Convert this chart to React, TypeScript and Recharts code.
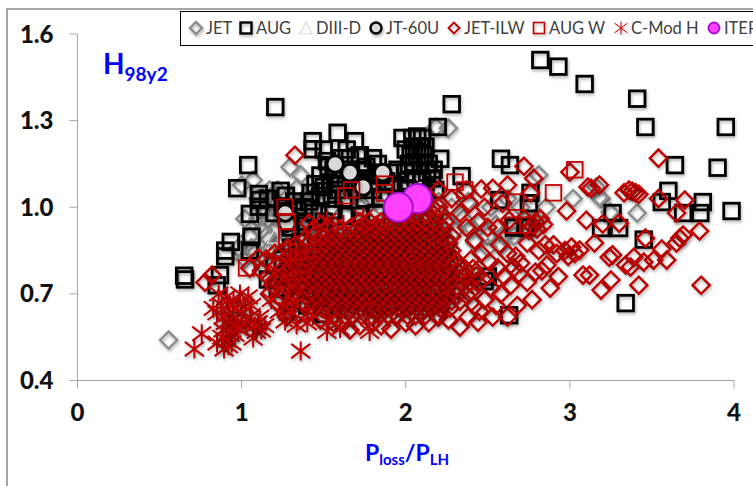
import React from 'react'
import { ScatterChart, Scatter, XAxis, YAxis, Legend } from 'recharts'

type Pair = [number, number]

const xTicks = [0, 1, 2, 3, 4]
const yTicks = [0.4, 0.7, 1.0, 1.3, 1.6]

const jet: Pair[] = [
  [0.555, 0.54], [1.295, 1.139], [1.36, 1.112], [1.0, 1.077], [1.07, 1.094], [1.34, 1.067], [2.26, 1.274], [2.185, 1.278],
  [2.81, 1.112], [3.02, 1.03], [2.855, 1.0], [3.16, 1.07], [3.19, 1.03], [3.18, 1.035], [3.41, 0.98], [3.245, 0.983],
  [1.02, 0.96], [1.1, 1.03], [1.2, 1.0], [1.16, 0.96], [1.22, 0.93], [1.12, 0.92], [1.05, 0.9], [1.28, 0.97], [1.33, 0.94],
  [1.38, 1.03], [1.42, 1.0], [1.45, 0.96], [1.3, 1.02], [1.25, 0.89], [1.18, 0.86], [1.08, 0.84], [0.98, 0.86], [1.35, 0.9],
  [1.5, 1.03], [1.55, 1.0], [1.6, 1.07], [1.65, 1.02], [1.72, 1.0], [1.8, 1.03], [1.85, 1.0], [1.95, 0.97], [2.05, 0.95],
  [2.12, 0.96], [2.18, 0.93], [2.25, 0.95], [2.3, 0.92], [2.35, 0.96], [2.4, 0.93], [2.45, 0.95], [2.5, 0.9], [2.55, 0.94],
  [2.6, 0.9], [2.65, 0.93], [2.42, 0.88], [2.5, 0.86], [2.58, 0.87], [2.66, 0.9], [2.72, 0.93], [2.78, 0.96], [2.2, 1.02],
  [2.28, 1.0], [2.38, 1.02], [2.52, 1.0], [2.62, 1.03], [2.7, 1.0],
  [1.14, 0.99], [1.19, 1.03], [1.24, 0.95], [1.27, 1.0], [1.15, 0.9], [1.21, 0.88], [1.28, 0.92], [1.32, 0.98], [1.36, 0.96],
  [1.4, 0.92], [1.1, 0.96], [1.06, 0.86], [1.13, 0.83], [1.17, 1.06], [1.22, 1.06], [1.44, 1.04], [1.02, 0.82],
]

const aug: Pair[] = [
  [2.82, 1.51], [2.93, 1.487], [3.09, 1.427], [3.41, 1.376], [3.46, 1.278], [3.95, 1.278], [2.28, 1.357], [2.195, 1.278],
  [2.58, 1.168], [2.635, 1.146], [3.64, 1.146], [3.9, 1.137], [2.34, 1.108], [2.21, 1.168], [3.6, 1.057], [3.81, 1.018],
  [3.985, 0.987], [3.56, 1.018], [3.69, 0.98], [3.795, 0.98], [3.26, 0.98], [3.19, 0.928], [3.3, 0.928], [3.45, 0.888],
  [3.34, 0.668], [2.63, 0.626], [2.76, 1.05], [2.75, 1.014], [2.57, 1.025], [2.48, 0.744], [2.5, 0.76], [2.73, 0.93], [2.66, 0.93],
  [1.205, 1.347], [1.433, 1.229], [1.433, 1.201], [1.585, 1.258], [1.69, 1.229], [1.04, 1.146], [0.973, 1.066], [1.105, 1.046],
  [1.238, 1.057], [1.05, 0.977], [1.105, 1.002], [1.11, 1.025], [0.934, 0.88], [1.06, 0.898], [0.65, 0.763], [0.655, 0.75],
  [0.9, 0.83], [0.9, 0.85], [0.868, 0.765], [1.05, 0.85], [0.848, 0.73], [1.27, 1.04], [1.32, 1.02],
  [1.5, 1.2], [1.52, 1.16], [1.56, 1.13], [1.48, 1.11], [1.54, 1.08], [1.6, 1.17], [1.64, 1.2], [1.66, 1.17], [1.72, 1.18],
  [1.76, 1.14], [1.8, 1.17], [1.83, 1.15], [1.72, 1.1], [1.78, 1.09], [1.85, 1.11], [1.9, 1.12], [1.95, 1.13], [1.48, 1.04],
  [1.55, 1.03], [1.42, 1.05], [1.38, 1.0], [1.44, 0.98], [1.5, 0.95], [1.6, 1.1], [1.58, 1.06], [1.65, 1.13], [1.7, 1.06],
  [1.8, 1.06], [1.92, 1.08], [2.0, 1.09], [1.98, 1.24], [2.04, 1.24], [2.07, 1.245], [2.1, 1.24], [2.05, 1.21], [2.09, 1.21],
  [2.03, 1.18], [2.07, 1.18], [2.11, 1.18], [2.14, 1.15], [2.05, 1.15], [2.09, 1.15], [2.13, 1.12], [2.0, 1.12], [2.06, 1.1],
  [2.1, 1.09], [2.16, 1.1], [2.18, 1.06], [2.02, 1.06], [1.38, 0.95], [1.3, 0.86], [1.25, 0.82], [1.2, 0.8], [1.16, 0.75],
  [1.22, 0.72], [1.3, 0.68], [1.4, 0.66], [1.5, 0.63],
  [1.53, 1.14], [1.57, 1.1], [1.5, 1.07], [1.62, 1.03], [1.67, 1.09], [1.74, 1.13], [1.82, 1.12], [1.88, 1.09], [1.75, 1.03],
  [1.85, 1.03], [1.95, 1.03], [1.56, 0.99], [1.64, 0.97], [1.72, 0.97], [1.82, 0.98], [1.45, 1.08], [1.41, 1.02], [1.46, 0.92],
  [1.36, 0.88], [1.42, 0.84], [1.33, 0.78], [1.38, 0.74], [1.3, 0.93], [1.34, 0.99], [2.01, 1.03], [2.12, 1.05], [2.17, 1.13],
  [2.02, 1.15], [2.12, 1.21], [2.0, 1.2], [1.16, 1.03], [1.2, 0.98], [1.25, 1.0], [1.28, 0.77],
]

const diiiD: Pair[] = [[1.2, 0.9], [1.6, 0.85], [1.9, 0.8]]

const jt60u: Pair[] = [
  [1.66, 1.12], [1.74, 1.07], [1.277, 0.945], [1.265, 0.98], [1.53, 0.897], [1.51, 0.904], [1.57, 1.15], [1.86, 1.12],
]

const jetIlw: Pair[] = [
  // right-hand scatter
  [2.98, 0.987], [2.46, 1.063], [2.53, 1.066], [2.62, 1.077], [2.78, 1.1], [2.76, 1.05], [3.11, 1.07], [3.1, 0.955],
  [3.01, 0.862], [3.06, 0.852], [2.93, 0.76], [3.08, 0.765], [2.88, 0.72], [2.77, 0.68], [2.68, 0.66], [2.62, 0.62],
  [2.53, 0.62], [2.44, 0.602], [2.33, 0.585], [2.79, 0.775], [2.7, 0.807], [2.51, 0.81], [2.42, 0.886], [2.57, 0.87],
  [2.74, 0.876], [2.81, 0.85], [2.9, 0.87], [2.63, 0.955], [2.56, 0.928], [2.59, 1.014], [2.48, 1.0], [2.39, 1.014],
  [2.33, 0.98], [3.54, 1.17], [3.54, 1.03], [3.7, 1.025], [3.65, 0.98], [3.79, 0.918], [3.69, 0.904], [3.67, 0.893],
  [3.65, 0.876], [3.46, 0.893], [3.56, 0.855], [3.59, 0.817], [3.51, 0.817], [3.45, 0.81], [3.39, 0.827], [3.37, 0.793],
  [3.34, 0.8], [3.26, 0.835], [3.24, 0.827], [3.42, 0.73], [3.25, 0.748], [3.19, 0.713], [3.8, 0.73], [3.3, 0.945],
  [3.2, 0.942], [3.15, 0.876], [3.12, 0.765], [3.36, 1.06], [3.38, 1.055], [3.4, 1.05], [3.42, 1.045], [3.33, 1.05],
  [3.18, 1.077], [3.13, 1.066], [2.72, 1.142], [3.0, 1.122], [2.79, 0.95], [2.77, 0.935], [2.75, 0.92], [2.82, 0.96],
  [2.8, 0.925], [2.72, 0.96], [2.84, 0.94], [2.85, 0.87], [2.92, 0.84], [2.97, 0.85], [2.99, 0.83], [3.03, 0.84],
  [2.83, 0.78], [2.86, 0.8], [2.74, 0.74], [2.69, 0.77], [2.66, 0.79], [2.6, 0.76], [2.56, 0.79], [2.64, 0.73], [2.58, 0.7],
  [2.52, 0.72], [2.47, 0.75], [2.48, 0.68], [2.55, 0.66], [2.42, 0.66], [2.38, 0.62], [2.45, 0.64], [2.62, 0.84], [2.67, 0.83],
  [2.46, 0.84], [2.4, 0.82], [2.5, 0.93], [2.44, 0.95], [2.37, 0.93], [2.28, 1.03], [2.37, 1.06], [2.2, 1.06],
  // upper-left strays
  [1.325, 1.18], [1.41, 0.945], [0.777, 0.74], [0.82, 0.765], [1.05, 0.79], [1.1, 0.824], [1.17, 0.7], [1.215, 0.67],
  [1.275, 0.62], [1.12, 0.78], [1.15, 0.82], [1.2, 0.84], [1.24, 0.76], [1.19, 0.73], [1.27, 0.7], [1.3, 0.73],
  [1.22, 0.8], [1.28, 0.86], [1.33, 0.82], [1.37, 0.78], [1.35, 0.7], [1.38, 0.66], [1.42, 0.64], [1.34, 0.63], [1.48, 0.61],
  [1.66, 0.575], [1.56, 0.6], [1.62, 0.6], [1.72, 0.59], [1.8, 0.6], [1.91, 0.578], [1.85, 0.59], [2.0, 0.6], [2.06, 0.59],
  [2.14, 0.6], [2.2, 0.62], [2.26, 0.61],
  [1.16, 0.76], [1.21, 0.75], [1.26, 0.79], [1.24, 0.84], [1.29, 0.83], [1.31, 0.77], [1.26, 0.73], [1.23, 0.69], [1.29, 0.66],
  [1.32, 0.69], [1.28, 0.64], [1.36, 0.73], [1.33, 0.87], [1.37, 0.84], [1.39, 0.89], [1.43, 0.92], [1.48, 0.94], [1.54, 0.93],
]

// dense core of the JET-ILW cloud, one row per level: [H98y2, Ploss/PLH values]
const jetIlwRows: [number, number[]][] = [
  [0.625, [1.57, 1.63, 1.67, 1.73, 1.79, 1.84, 1.9, 1.95, 2.01, 2.06, 2.12, 2.19]],
  [0.65, [1.44, 1.49, 1.55, 1.61, 1.66, 1.72, 1.77, 1.81, 1.86, 1.91, 1.97, 2.02, 2.07, 2.11, 2.16, 2.21, 2.27]],
  [0.6625, [1.52, 1.58, 1.64, 1.7, 1.75, 1.8, 1.85, 1.89, 1.94, 2.0, 2.05, 2.09, 2.15, 2.2]],
  [0.675, [1.37, 1.42, 1.47, 1.53, 1.57, 1.63, 1.68, 1.73, 1.78, 1.83, 1.87, 1.92, 1.98, 2.03, 2.08, 2.13, 2.18, 2.23, 2.28, 2.33]],
  [0.685, [1.48, 1.54, 1.59, 1.64, 1.69, 1.74, 1.79, 1.84, 1.89, 1.94, 1.99, 2.04, 2.09, 2.14, 2.2, 2.25]],
  [0.695, [1.33, 1.39, 1.45, 1.5, 1.56, 1.61, 1.65, 1.71, 1.76, 1.8, 1.86, 1.91, 1.96, 2.01, 2.06, 2.11, 2.16, 2.22, 2.26, 2.31, 2.37]],
  [0.71, [1.43, 1.49, 1.53, 1.58, 1.63, 1.68, 1.73, 1.78, 1.83, 1.88, 1.93, 1.98, 2.03, 2.08, 2.13, 2.18, 2.24, 2.29, 2.4]],
  [0.725, [1.35, 1.4, 1.46, 1.51, 1.55, 1.6, 1.66, 1.7, 1.76, 1.81, 1.85, 1.91, 1.95, 2.01, 2.05, 2.1, 2.16, 2.21, 2.25, 2.31, 2.36]],
  [0.7375, [1.42, 1.47, 1.52, 1.57, 1.62, 1.68, 1.73, 1.78, 1.83, 1.88, 1.93, 1.99, 2.04, 2.09, 2.14, 2.19, 2.26, 2.39, 2.44]],
  [0.75, [1.31, 1.37, 1.43, 1.48, 1.53, 1.57, 1.62, 1.67, 1.72, 1.77, 1.82, 1.86, 1.92, 1.97, 2.02, 2.07, 2.12, 2.17, 2.23, 2.28, 2.33]],
  [0.7625, [1.4, 1.46, 1.51, 1.55, 1.6, 1.65, 1.7, 1.75, 1.8, 1.85, 1.9, 1.95, 2.0, 2.05, 2.1, 2.15, 2.2, 2.25, 2.37, 2.43]],
  [0.775, [1.29, 1.35, 1.39, 1.44, 1.49, 1.54, 1.59, 1.63, 1.68, 1.73, 1.78, 1.83, 1.88, 1.93, 1.98, 2.03, 2.08, 2.13, 2.18, 2.23, 2.27, 2.32]],
  [0.7875, [1.41, 1.46, 1.51, 1.56, 1.6, 1.65, 1.7, 1.75, 1.8, 1.85, 1.9, 1.95, 2.0, 2.04, 2.09, 2.14, 2.19, 2.24, 2.36, 2.41]],
  [0.8, [1.33, 1.37, 1.42, 1.48, 1.53, 1.58, 1.62, 1.67, 1.72, 1.77, 1.82, 1.87, 1.92, 1.97, 2.02, 2.06, 2.11, 2.16, 2.21, 2.26, 2.31]],
  [0.8125, [1.42, 1.47, 1.52, 1.57, 1.62, 1.66, 1.71, 1.76, 1.81, 1.86, 1.91, 1.96, 2.0, 2.05, 2.1, 2.15, 2.2, 2.27]],
  [0.825, [1.34, 1.39, 1.44, 1.5, 1.55, 1.6, 1.64, 1.69, 1.74, 1.78, 1.84, 1.89, 1.94, 1.99, 2.04, 2.09, 2.14, 2.19, 2.24, 2.29]],
  [0.8375, [1.45, 1.5, 1.55, 1.59, 1.64, 1.69, 1.74, 1.79, 1.84, 1.89, 1.94, 1.99, 2.03, 2.09, 2.14, 2.2, 2.25]],
  [0.85, [1.37, 1.42, 1.47, 1.52, 1.57, 1.62, 1.66, 1.72, 1.77, 1.82, 1.87, 1.92, 1.97, 2.01, 2.07, 2.12, 2.17, 2.22, 2.28]],
  [0.8625, [1.49, 1.54, 1.59, 1.63, 1.68, 1.74, 1.79, 1.84, 1.89, 1.94, 1.99, 2.04, 2.09, 2.14, 2.19, 2.24]],
  [0.875, [1.41, 1.46, 1.51, 1.56, 1.61, 1.66, 1.71, 1.76, 1.81, 1.86, 1.91, 1.96, 2.02, 2.06, 2.11, 2.16, 2.21, 2.26]],
  [0.8875, [1.53, 1.58, 1.63, 1.68, 1.73, 1.78, 1.83, 1.88, 1.93, 1.98, 2.03, 2.08, 2.13, 2.19, 2.25]],
  [0.9, [1.44, 1.49, 1.55, 1.6, 1.65, 1.7, 1.75, 1.8, 1.85, 1.9, 1.95, 2.0, 2.05, 2.1, 2.16, 2.22, 2.28]],
  [0.9125, [1.62, 1.68, 1.73, 1.78, 1.83, 1.88, 1.93, 1.98, 2.03, 2.08, 2.14, 2.2]],
  [0.925, [1.6, 1.66, 1.71, 1.76, 1.81, 1.86, 1.91, 1.96, 2.01, 2.06, 2.11, 2.17, 2.23]],
  [0.9375, [1.75, 1.82, 1.87, 1.93, 1.99, 2.04, 2.09, 2.15, 2.21]],
  [0.95, [1.72, 1.78, 1.85, 1.9, 1.96, 2.02, 2.07, 2.12, 2.18, 2.24]],
  [0.975, [1.94, 2.0, 2.06, 2.12, 2.17, 2.22]],
  [1.0, [2.08, 2.16, 2.2]],
]

const augW: Pair[] = [
  [3.03, 1.13], [2.3, 1.087], [2.36, 1.06], [2.9, 1.05], [2.67, 1.018], [1.67, 1.06], [1.635, 1.04], [1.87, 1.08], [1.87, 1.05],
  [1.265, 1.0], [1.275, 0.95], [1.03, 0.79], [1.345, 0.845], [1.275, 0.898], [2.65, 0.938], [2.745, 0.938],
]

const cMod: Pair[] = [
  [0.712, 0.509], [0.757, 0.562], [0.893, 0.509], [0.85, 0.53], [0.94, 0.53], [0.91, 0.54], [1.36, 0.502], [1.09, 0.57],
  [1.07, 0.547], [1.12, 0.575], [1.265, 0.606], [1.335, 0.592], [1.52, 0.57], [1.78, 0.57], [0.827, 0.65], [0.85, 0.634],
  [0.95, 0.617], [0.97, 0.6], [0.887, 0.575], [1.02, 0.657], [1.03, 0.59], [0.91, 0.69], [0.99, 0.7], [0.95, 0.675],
  [1.435, 0.625], [1.53, 0.606], [0.88, 0.66], [1.0, 0.63], [1.05, 0.62], [0.9, 0.6], [0.93, 0.56], [0.96, 0.56], [1.1, 0.6],
  [1.14, 0.59], [1.04, 0.69], [0.86, 0.7], [1.52, 0.955], [1.74, 0.966], [1.62, 0.94], [1.3, 0.82], [1.2, 0.77],
  [0.92, 0.63], [0.97, 0.65], [0.93, 0.66], [1.0, 0.6], [0.94, 0.59], [0.89, 0.62], [1.06, 0.66], [1.11, 0.62], [1.08, 0.59],
  [0.92, 0.52], [0.88, 0.55], [0.98, 0.58], [1.23, 0.64], [1.4, 0.6], [1.6, 0.58], [1.3, 0.64], [1.18, 0.68],
]

const iter: Pair[] = [[2.07, 1.03], [1.955, 1.0]]

const legendLeft: Record<string, number> = {
  JET: 0, AUG: 50, 'DIII-D': 110, 'JT-60U': 180, 'JET-ILW': 258, 'AUG W': 343, 'C-Mod H': 425, ITER: 518,
}

const toPoints = (pairs: Pair[]) => pairs.map(([x, y]) => ({ x, y }))
const rowPoints = (rows: [number, number[]][]) => rows.flatMap(([y, xs]) => xs.map((x) => ({ x, y })))

const RED = '#c00000'
const shadow = 'drop-shadow(1px 2px 1.5px rgba(0,0,0,0.3))'

const Diamond = ({ cx, cy, color, r = 8.6, w = 2.4 }: any) => (
  <path
    d={`M${cx - r} ${cy}L${cx} ${cy - r}L${cx + r} ${cy}L${cx} ${cy + r}Z`}
    fill="none"
    stroke={color}
    strokeWidth={w}
    style={{ filter: shadow }}
  />
)

const Square = ({ cx, cy, color, r = 7.8, w = 2.8 }: any) => (
  <rect x={cx - r} y={cy - r} width={r * 2} height={r * 2} fill="none" stroke={color} strokeWidth={w} style={{ filter: shadow }} />
)

const Star = ({ cx, cy, r = 9.5, w = 2 }: any) => (
  <path
    d={`M${cx - r} ${cy - r * 0.75}L${cx + r} ${cy + r * 0.75}M${cx - r} ${cy + r * 0.75}L${cx + r} ${cy - r * 0.75}M${cx} ${cy - r}L${cx} ${cy + r}`}
    fill="none"
    stroke={RED}
    strokeWidth={w}
    style={{ filter: shadow }}
  />
)

const Tri = ({ cx, cy, r = 7 }: any) => (
  <path d={`M${cx - r} ${cy + r}L${cx} ${cy - r}L${cx + r} ${cy + r}Z`} fill="none" stroke="#d9d9d9" strokeWidth={1.2} />
)

const Ring = ({ cx, cy, r = 8.3, w = 3 }: any) => (
  <circle cx={cx} cy={cy} r={r} fill="#d9d9d9" stroke="#000" strokeWidth={w} style={{ filter: shadow }} />
)

const Iter = ({ cx, cy, r = 14.5, w = 2 }: any) => (
  <circle cx={cx} cy={cy} r={r} fill="#ff40ff" stroke="#a010d0" strokeWidth={w} />
)

const legendIcon = (name: string) => {
  switch (name) {
    case 'JET':
      return <Diamond cx={10} cy={10} color="#8c8c8c" r={6} w={2.4} />
    case 'AUG':
      return <Square cx={10} cy={10} color="#000" r={5.5} w={2.4} />
    case 'DIII-D':
      return <Tri cx={10} cy={10} r={6} />
    case 'JT-60U':
      return <Ring cx={10} cy={10} r={5.5} w={2.4} />
    case 'JET-ILW':
      return <Diamond cx={10} cy={10} color={RED} r={5.5} w={1.8} />
    case 'AUG W':
      return <Square cx={10} cy={10} color={RED} r={5.5} w={1.6} />
    case 'C-Mod H':
      return <Star cx={10} cy={10} r={6.5} w={1} />
    default:
      return <Iter cx={10} cy={10} r={5.5} w={1.8} />
  }
}

const LegendBox = ({ payload }: any) => (
  <div style={{ position: 'relative', width: 600, height: 33, background: '#fff', border: '1px solid #000' }}>
    {(payload || []).map((item: any) => (
      <div key={item.value} style={{ position: 'absolute', left: legendLeft[item.value] + 5, top: 6, display: 'flex', alignItems: 'center', height: 20 }}>
        <svg width={20} height={20} style={{ overflow: 'visible' }}>{legendIcon(item.value)}</svg>
        <span style={{ marginLeft: 0, fontFamily: 'Lato', fontSize: 16.5, color: '#404040', whiteSpace: 'nowrap' }}>{item.value}</span>
      </div>
    ))}
  </div>
)

export default function App() {
  return (
    <div style={{ position: 'absolute', left: 0, top: 0, width: 753, height: 486, overflow: 'hidden', background: '#fff' }}>
      <div style={{ position: 'absolute', left: 6, top: 8, width: 800, height: 600, borderLeft: '2.5px solid #a6a6a6', borderTop: '2.5px solid #a6a6a6' }} />
      <div style={{ position: 'absolute', left: 0, top: 0 }}>
        <ScatterChart width={753} height={486} margin={{ top: 34, right: 19, bottom: 0, left: 0 }}>
          <XAxis
            type="number"
            dataKey="x"
            domain={[0, 4]}
            ticks={xTicks}
            height={105.5}
            interval={0}
            stroke="#a6a6a6"
            tickSize={8}
            tickMargin={15}
            tick={{ fontFamily: 'Lato', fontWeight: 900, fontSize: 24, fill: '#111' }}
          />
          <YAxis
            type="number"
            dataKey="y"
            domain={[0.4, 1.6]}
            ticks={yTicks}
            width={77.5}
            interval={0}
            stroke="#a6a6a6"
            tickSize={8}
            tickMargin={16}
            tickFormatter={(v: number) => v.toFixed(1)}
            tick={{ fontFamily: 'Lato', fontWeight: 900, fontSize: 24, fill: '#111' }}
          />
          <Legend
            layout="horizontal"
            verticalAlign="middle"
            content={<LegendBox />}
            wrapperStyle={{ left: 180, top: 11, width: 600, height: 35, margin: 0 }}
          />
          <Scatter name="JET" data={toPoints(jet)} isAnimationActive={false} shape={(p: any) => <Diamond {...p} color="#8c8c8c" />} />
          <Scatter name="AUG" data={toPoints(aug)} isAnimationActive={false} shape={(p: any) => <Square {...p} color="#000" />} />
          <Scatter name="DIII-D" data={toPoints(diiiD)} isAnimationActive={false} shape={(p: any) => <Tri {...p} />} />
          <Scatter name="JT-60U" data={toPoints(jt60u)} isAnimationActive={false} shape={(p: any) => <Ring {...p} />} />
          <Scatter name="JET-ILW" data={[...toPoints(jetIlw), ...rowPoints(jetIlwRows)]} isAnimationActive={false} shape={(p: any) => <Diamond {...p} color={RED} />} />
          <Scatter name="AUG W" data={toPoints(augW)} isAnimationActive={false} shape={(p: any) => <Square {...p} color={RED} w={1.8} />} />
          <Scatter name="C-Mod H" data={toPoints(cMod)} isAnimationActive={false} shape={(p: any) => <Star {...p} />} />
          <Scatter name="ITER" data={toPoints(iter)} isAnimationActive={false} shape={(p: any) => <Iter {...p} />} />
          <text x={103} y={74} fill="#0000ff" fontFamily="Lato" fontWeight={700} fontSize={28}>
            H<tspan fontSize={19} dy={7}>98y2</tspan>
          </text>
          <text x={365} y={461} fill="#0000ff" fontFamily="Lato" fontWeight={700} fontSize={23}>
            P<tspan fontSize={15} dy={4}>loss</tspan><tspan dy={-4}>/P</tspan><tspan fontSize={15} dy={4}>LH</tspan>
          </text>
        </ScatterChart>
      </div>
    </div>
  )
}
